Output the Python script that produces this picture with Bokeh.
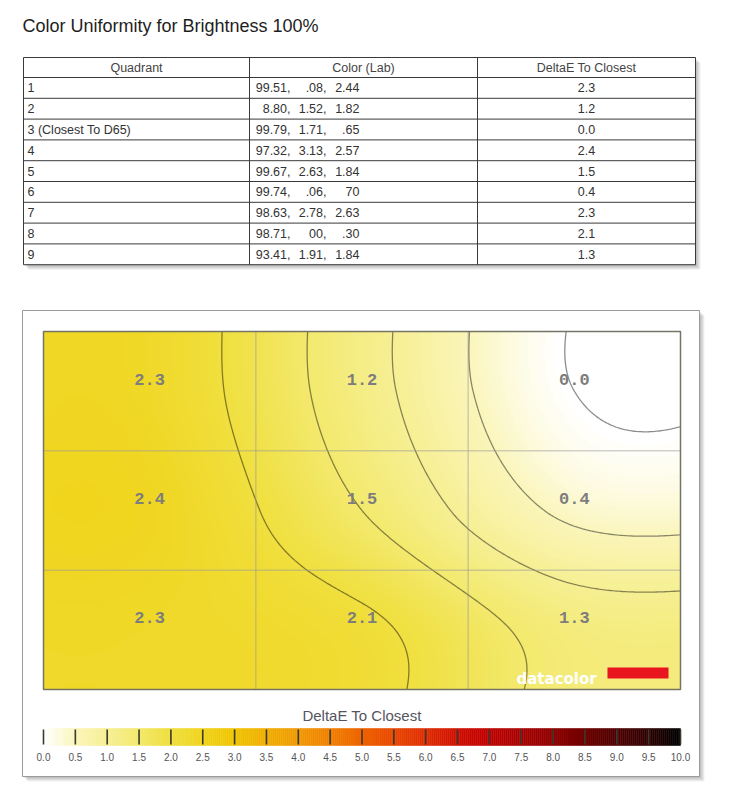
import numpy as np
from bokeh.plotting import figure
from bokeh.models import Range1d, LinearColorMapper, ColumnDataSource
from bokeh.embed import file_html
from bokeh.resources import INLINE
from bokeh.core.properties import value

# ---------------- data ----------------
title_text = "Color Uniformity for Brightness 100%"
headers = ["Quadrant", "Color (Lab)", "DeltaE To Closest"]
quadrants = ["1", "2", "3 (Closest To D65)", "4", "5", "6", "7", "8", "9"]
lab_L = ["99.51", "8.80", "99.79", "97.32", "99.67", "99.74", "98.63", "98.71", "93.41"]
lab_a = [".08", "1.52", "1.71", "3.13", "2.63", ".06", "2.78", "00", "1.91"]
lab_b = ["2.44", "1.82", ".65", "2.57", "1.84", "70", "2.63", ".30", "1.84"]
delta_e = [2.3, 1.2, 0.0, 2.4, 1.5, 0.4, 2.3, 2.1, 1.3]
colorbar_title = "DeltaE To Closest"
colorbar_labels = ["0.0", "0.5", "1.0", "1.5", "2.0", "2.5", "3.0", "3.5", "4.0", "4.5", "5.0",
                   "5.5", "6.0", "6.5", "7.0", "7.5", "8.0", "8.5", "9.0", "9.5", "10.0"]
contour_levels = [0.0, 0.5, 1.0, 1.5, 2.0]
logo_text = "datacolor"

# ---------------- style / layout ----------------
W, H = 749, 802
HX0, HX1, HY0, HY1 = 43, 680, 331, 689      # heatmap plot area (px)
CB_X0, CB_X1, CB_Y0, CB_Y1 = 43, 680, 728, 745
TX = [23, 249, 477, 695]
T_TOP, HEAD_H, ROW_H = 57, 20, 20.8
PANEL = (22, 699, 310, 776)
FONT = value("Liberation Sans")

anchor_cols = ["#ffffff", "#faf5b8", "#f6ef92", "#f3e96c", "#f0df3e", "#f0d41a", "#f0c400",
               "#f0ae00", "#f09800", "#f08000", "#ee6400", "#ea4800", "#e02c00", "#d01000",
               "#c00000", "#a80000", "#900000", "#700000", "#500000", "#300000", "#000000"]


def h2rgb(h):
    return [int(h[i:i + 2], 16) for i in (1, 3, 5)]


anc = np.array([h2rgb(c) for c in anchor_cols], dtype=float)
anc_pos = np.linspace(0, 10, len(anchor_cols))
palette = []
for v in np.linspace(0, 10, 256):
    rgb = [int(round(np.interp(v, anc_pos, anc[:, k]))) for k in range(3)]
    palette.append("#%02x%02x%02x" % tuple(rgb))
mapper = LinearColorMapper(palette=palette, low=0, high=10)

# ---------------- figure ----------------
kx = 3.0 / (HX1 - HX0)
ky = 3.0 / (HY1 - HY0)
p = figure(width=W, height=H,
           x_range=Range1d(-HX0 * kx, 3 + (W - HX1) * kx),
           y_range=Range1d(-(H - HY1) * ky, 3 + HY0 * ky),
           output_backend="svg", toolbar_location=None, min_border=0,
           x_axis_location=None, y_axis_location=None, outline_line_color=None,
           background_fill_color="white", border_fill_color="white")
p.grid.visible = False
kc = 10.0 / (CB_X1 - CB_X0)
p.extra_x_ranges = {"px": Range1d(0, W), "cx": Range1d(-CB_X0 * kc, 10 + (W - CB_X1) * kc)}
p.extra_y_ranges = {"py": Range1d(H, 0)}
PX = dict(x_range_name="px", y_range_name="py")

# title
p.text(x=[22], y=[25], text=[title_text], text_font=FONT, text_font_size="18px",
       text_color="#1e1e1e", text_baseline="alphabetic", **PX)

# ---------------- table ----------------
n = len(quadrants)
T_BOT = T_TOP + HEAD_H + ROW_H * n
for k in range(1, 6):
    p.quad(left=TX[0] + k, right=TX[3] + k, top=T_TOP + k, bottom=T_BOT + k,
           fill_color="black", fill_alpha=0.06, line_color=None, **PX)
p.quad(left=TX[0], right=TX[3], top=T_TOP, bottom=T_BOT, fill_color="white",
       line_color="#3a3a3a", line_width=1, **PX)
row_lines = [T_TOP + HEAD_H + ROW_H * i for i in range(n)]
p.segment(x0=[TX[0]] * n, x1=[TX[3]] * n, y0=row_lines, y1=row_lines,
          line_color="#3a3a3a", line_width=1, **PX)
p.segment(x0=TX[1:3], x1=TX[1:3], y0=[T_TOP] * 2, y1=[T_BOT] * 2,
          line_color="#3a3a3a", line_width=1, **PX)
hx = [(TX[i] + TX[i + 1]) / 2 for i in range(3)]
p.text(x=hx, y=[T_TOP + HEAD_H / 2] * 3, text=headers, text_font=FONT, text_font_size="12.5px",
       text_color="#444444", text_align="center", text_baseline="middle", **PX)
ry = [T_TOP + HEAD_H + ROW_H * (i + 0.5) for i in range(n)]
tsrc = ColumnDataSource(dict(y=ry, q=quadrants,
                             L=[s + "," for s in lab_L], a=[s + "," for s in lab_a], b=lab_b,
                             d=["%.1f" % v for v in delta_e]))
tstyle = dict(text_font=FONT, text_font_size="12.5px", text_color="#333333",
              text_baseline="middle", source=tsrc, **PX)
p.text(x=TX[0] + 4, y="y", text="q", text_align="left", **tstyle)
p.text(x=290, y="y", text="L", text_align="right", **tstyle)
p.text(x=326, y="y", text="a", text_align="right", **tstyle)
p.text(x=359, y="y", text="b", text_align="right", **tstyle)
p.text(x=hx[2], y="y", text="d", text_align="center", **tstyle)

# ---------------- heatmap panel ----------------
L0, R0, T0, B0 = PANEL
for k in range(1, 6):
    p.quad(left=L0 + k, right=R0 + k, top=T0 + k, bottom=B0 + k,
           fill_color="black", fill_alpha=0.06, line_color=None, **PX)
p.quad(left=L0, right=R0, top=T0, bottom=B0, fill_color="white",
       line_color="#9a9a9a", line_width=1, **PX)

V = np.array(delta_e).reshape(3, 3)          # row 0 = top row of quadrants
xs = np.linspace(0, 3, 320)
ys = np.linspace(0, 3, 200)


def keys_kernel(x, a=-0.5):
    x = abs(x)
    if x <= 1:
        return (a + 2) * x ** 3 - (a + 3) * x ** 2 + 1
    if x < 2:
        return a * x ** 3 - 5 * a * x ** 2 + 8 * a * x - 4 * a
    return 0.0


def bicubic_weights(t):
    # weights of the 3 samples (edge-replicated) at fractional sample positions t
    Wm = np.zeros((len(t), 3))
    for n_, tt in enumerate(t):
        i = int(np.floor(tt))
        for j in range(i - 1, i + 3):
            Wm[n_, min(max(j, 0), 2)] += keys_kernel(tt - j)
    return Wm


Z = bicubic_weights(2.5 - ys) @ V @ bicubic_weights(xs - 0.5).T
p.image(image=[Z], x=0, y=0, dw=3, dh=3, color_mapper=mapper)
p.contour(xs, ys, Z, levels=contour_levels, line_color="black", line_alpha=0.45, line_width=1.3)
p.segment(x0=[1, 2, 0, 0], x1=[1, 2, 3, 3], y0=[0, 0, 1, 2], y1=[3, 3, 1, 2],
          line_color="#9a9a9a", line_alpha=0.45, line_width=1.5)
p.quad(left=0, right=3, bottom=0, top=3, fill_color=None, line_color="#747464", line_width=1.5)

cx = [(i % 3) + 0.5 for i in range(9)]
cy = [2.5 - (i // 3) for i in range(9)]
p.text(x=cx, y=cy, text=["%.1f" % v for v in delta_e], text_font=value("Liberation Mono"),
       text_font_style="bold", text_font_size="17px", text_color="#7d7d7d",
       text_align="center", text_baseline="middle", y_offset=-12)

# logo
p.quad(left=607, right=668, top=667, bottom=678, fill_color="#e8141e", line_color=None, **PX)
p.text(x=[516], y=[678], text=[logo_text], text_font=value("DejaVu Sans"), text_font_style="bold",
       text_font_size="15px", text_color="white", text_baseline="alphabetic", **PX)

# ---------------- colour bar ----------------
p.text(x=[(PANEL[0] + PANEL[1]) / 2 + 1], y=[715], text=[colorbar_title], text_font=FONT,
       text_font_size="15px", text_color="#555560", text_align="center", text_baseline="middle", **PX)
edges = np.linspace(0, 10, 321)
cb = ColumnDataSource(dict(l=edges[:-1], r=edges[1:], v=(edges[:-1] + edges[1:]) / 2))
p.quad(left="l", right="r", top=CB_Y0, bottom=CB_Y1, source=cb,
       fill_color={"field": "v", "transform": mapper}, line_color={"field": "v", "transform": mapper},
       line_width=0.5, x_range_name="cx", y_range_name="py")
tick_vals = [float(s) for s in colorbar_labels]
p.segment(x0=tick_vals, x1=tick_vals, y0=[CB_Y0 + 1] * len(tick_vals), y1=[CB_Y1 - 1] * len(tick_vals),
          line_color="#3a3a30", line_width=1.6, x_range_name="cx", y_range_name="py")
p.text(x=tick_vals, y=[756] * len(tick_vals), text=colorbar_labels, text_font=FONT,
       text_font_size="10px", text_color="#555555", text_align="center", text_baseline="middle",
       x_range_name="cx", y_range_name="py")

open("out.html", "w").write(file_html(p, INLINE))
